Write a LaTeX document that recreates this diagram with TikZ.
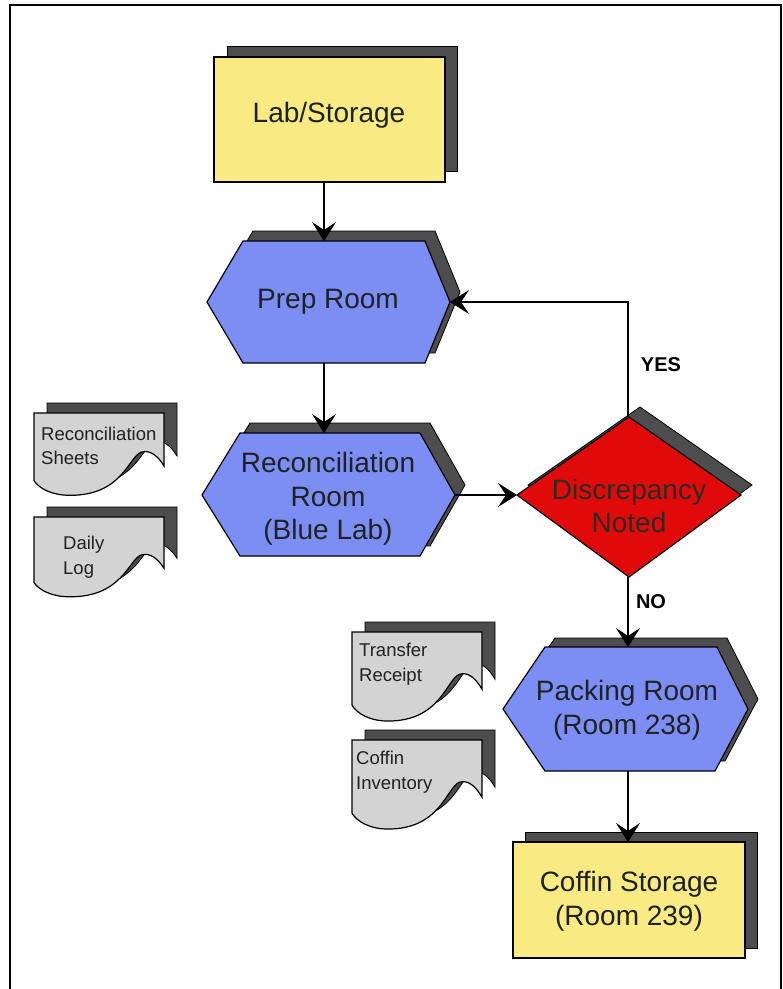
\documentclass[tikz,border=0pt]{standalone}
\usepackage{fontspec}
\setmainfont{Liberation Sans}
\usetikzlibrary{arrows.meta}
\definecolor{yfill}{RGB}{249,234,132}
\definecolor{bfill}{RGB}{124,142,244}
\definecolor{rfill}{RGB}{224,10,10}
\definecolor{shgray}{RGB}{77,77,77}
\definecolor{dgray}{RGB}{211,211,211}
\definecolor{txtc}{RGB}{30,34,34}
\tikzset{
  shad/.style={fill=shgray,draw=black,line width=0.8pt},
  outl/.style={draw=black,line width=1.2pt,line join=miter},
  arr/.style={draw=black,line width=1.8pt,-{Stealth[length=19pt,width=24pt,inset=8pt]}},
  big/.style={font=\fontsize{28}{33.5}\selectfont,text=txtc,align=center,inner sep=0pt},
  small/.style={font=\fontsize{18.5}{24.5}\selectfont,text=txtc,align=left,inner sep=0pt,anchor=west},
  yn/.style={font=\fontsize{20}{24}\selectfont\bfseries,text=black,inner sep=0pt}
}
\newcommand\mydocshape{(0,0) -- (130,0) -- (130,54) .. controls (124,44) and (116,37) .. (107,40) .. controls (94,46) and (88,84) .. (36,84) .. controls (18,84) and (5,77) .. (0,69) -- cycle}
\newcommand\mydoc[3]{%
  \begin{scope}[shift={(#1+13,#2-10)},yscale=#3]\path[shad] \mydocshape;\end{scope}
  \begin{scope}[shift={(#1,#2)},yscale=#3]\path[outl,fill=dgray] \mydocshape;\end{scope}}
\begin{document}
\begin{tikzpicture}[x=1pt,y=-1pt]
\useasboundingbox (0,0) rectangle (783,989);
% frame
\draw[line width=2.5pt] (10,989) -- (10,5) -- (781,5) -- (781,989);

% Lab/Storage
\path[shad] (227,46) rectangle (457,171);
\path[outl,fill=yfill] (214,57) rectangle (445,182);
\node[big] (lab) at (329,115) {Lab/Storage};
\coordinate (labB) at (324,182);

% Prep Room
\path[shad] (217,292) -- (253,231) -- (435,231) -- (460,292) -- (435,353) -- (253,353) -- cycle;
\path[outl,fill=bfill] (207,302) -- (243,241) -- (425,241) -- (450,302) -- (425,363) -- (243,363) -- cycle;
\node[big] (prep) at (328,302) {Prep Room};
\coordinate (prepT) at (324,241);
\coordinate (prepB) at (324,363);
\coordinate (prepR) at (450,302);

% Reconciliation Room
\path[shad] (212,485) -- (250,423) -- (430,423) -- (465,485) -- (430,546) -- (250,546) -- cycle;
\path[outl,fill=bfill] (202,495) -- (240,433) -- (420,433) -- (455,495) -- (420,556) -- (240,556) -- cycle;
\node[big] (rec) at (328,499) {Reconciliation\\Room\\(Blue Lab)};
\coordinate (recT) at (324,433);
\coordinate (recR) at (455,495);

% Discrepancy diamond
\path[shad] (528,485) -- (640,407) -- (752,485) -- (640,567) -- cycle;
\path[outl,fill=rfill] (517,495) -- (629,417) -- (741,495) -- (629,577) -- cycle;
\node[big,text={rgb,255:red,40;green,45;blue,35}] (dis) at (629,506) {Discrepancy\\Noted};
\coordinate (diaL) at (517,495);
\coordinate (diaT) at (628,417);
\coordinate (diaB) at (628,577);

% Packing Room
\path[shad] (513,699) -- (555,638) -- (727,638) -- (758,699) -- (725,761) -- (555,761) -- cycle;
\path[outl,fill=bfill] (503,709) -- (545,647) -- (717,647) -- (748,709) -- (715,771) -- (545,771) -- cycle;
\node[big] (pack) at (627,710) {Packing Room\\(Room 238)};
\coordinate (packT) at (628,647);
\coordinate (packB) at (628,771);

% Coffin Storage
\path[shad] (525,832) rectangle (757,948);
\path[outl,fill=yfill] (513,842) rectangle (745,958);
\node[big] (cof) at (629,901) {Coffin Storage\\(Room 239)};
\coordinate (cofT) at (628,842);

% documents
\mydoc{34}{413}{0.98}
\node[small] (d1) at (41,446) {Reconciliation\\Sheets};
\mydoc{34}{517}{0.95}
\node[small] (d2) at (63,557) {Daily\\Log};
\mydoc{352}{632}{1.06}
\node[small] (d3) at (359,664) {Transfer\\Receipt};
\mydoc{352}{740}{1.06}
\node[small] (d4) at (356,772) {Coffin\\Inventory};

% connectors
\draw[arr] (labB) -- (prepT);
\draw[arr] (prepB) -- (recT);
\draw[arr] (recR) -- (diaL);
\draw[arr] (diaT) |- (prepR);
\draw[arr] (diaB) -- (packT);
\draw[arr] (packB) -- (cofT);

\node[yn] (yes) at (661,365) {YES};
\node[yn] (no) at (651,602) {NO};
\end{tikzpicture}
\end{document}
